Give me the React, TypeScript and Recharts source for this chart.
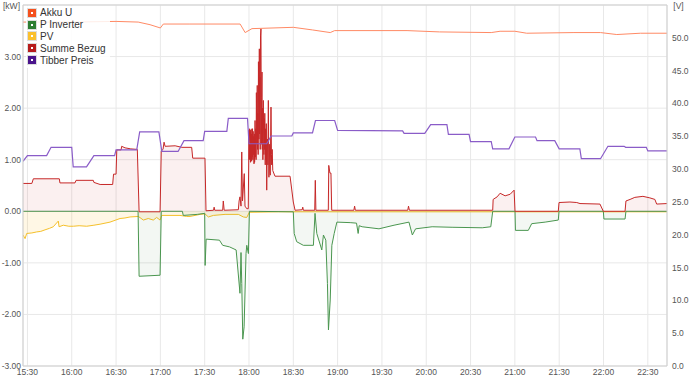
import React from "react";
import {
  ComposedChart,
  Area,
  Line,
  XAxis,
  YAxis,
  CartesianGrid,
  Legend,
  ReferenceLine,
} from "recharts";

// time in minutes since midnight
const akkuU: [number, number][] = [
  [927, 52.4], [960, 52.4], [990, 52.5], [1005, 52.4], [1013, 52.0], [1020, 51.5],
  [1022, 52.1], [1040, 52.1], [1074, 52.1], [1077.4, 50.8], [1082, 51.4], [1110, 51.6],
  [1123, 51.2], [1135, 50.8], [1138, 51.1], [1187, 51.1], [1209, 50.9], [1244, 50.8],
  [1250, 51.0], [1260, 51.0], [1268, 50.7], [1300, 50.8], [1318, 50.8], [1329, 50.5],
  [1345, 50.7], [1363, 50.7],
];

const pInverter: [number, number][] = [
  [927, 0], [1004.9, 0], [1005.6, -1.26], [1019.8, -1.24], [1020.6, 0], [1034.9, 0],
  [1035.5, -0.08], [1045, -0.06], [1050, -0.04], [1050.3, -1.05], [1051, -0.54],
  [1060, -0.56], [1062.2, -0.66], [1066.8, -0.69], [1071.3, -0.75], [1073.9, -1.59],
  [1074.6, -0.8], [1075.1, -1.4], [1075.8, -2.48], [1076.7, -2.24], [1078, -0.82],
  [1078.5, -0.66], [1079.6, -0.82], [1080.3, 0], [1110, -0.01], [1110.6, -0.43],
  [1112.3, -0.59], [1116.8, -0.66], [1123.6, -0.66], [1124.7, -0.04], [1125.9, -0.43],
  [1129.3, -0.75], [1130.4, -0.46], [1132, -0.56], [1133.1, -1.4], [1133.8, -2.3],
  [1135, -1.72], [1136.1, -0.66], [1137.7, -0.43], [1139.5, -0.21], [1148.5, -0.22],
  [1152.8, -0.23], [1153.9, -0.43], [1154.6, -0.28], [1156.6, -0.3], [1168, -0.34],
  [1178.2, -0.27], [1188.3, -0.21], [1190.6, -0.46], [1192.8, -0.34], [1204, -0.3],
  [1217.5, -0.31], [1237.9, -0.32], [1243.7, -0.3], [1245, 0], [1260.1, 0],
  [1260.4, -0.37], [1269.1, -0.37], [1271.4, -0.24], [1280.5, -0.21], [1289.4, -0.17],
  [1289.9, 0], [1319.9, 0], [1320.3, -0.15], [1334.6, -0.15], [1335.2, 0], [1363, 0],
];

const pv: [number, number][] = [
  [927, -0.46], [928.4, -0.53], [929.5, -0.43], [933, -0.42], [936.3, -0.4],
  [939, -0.39], [941.9, -0.36], [945, -0.33], [947.5, -0.3], [950.9, -0.19],
  [951.4, -0.3], [954.3, -0.27], [958, -0.29], [961.1, -0.29], [965, -0.28],
  [970.1, -0.29], [975, -0.27], [979.2, -0.25], [985.9, -0.21], [992.7, -0.14],
  [996, -0.13], [999.5, -0.11], [1005.1, -0.1], [1008.5, -0.17], [1011.8, -0.14],
  [1015.2, -0.17], [1017.5, -0.12], [1019.8, -0.17], [1020.9, -0.08], [1033.3, -0.08],
  [1037.8, -0.1], [1040.1, -0.1], [1046.9, -0.06], [1050.2, -0.05], [1052.5, -0.11],
  [1055.9, -0.08], [1063.8, -0.06], [1072.8, -0.06], [1076.2, -0.11], [1078.5, -0.12],
  [1080.2, -0.02], [1100, -0.01], [1363, -0.01],
];

const summeBezug: [number, number][] = [
  [927, 0.54], [933, 0.54], [934, 0.63], [951.6, 0.63], [952, 0.55], [962.2, 0.55],
  [962.9, 0.6], [974.6, 0.6], [975, 0.56], [979.2, 0.52], [987.7, 0.52], [988.3, 0.72],
  [990, 0.72], [990.5, 1.19], [993.4, 1.19], [993.8, 1.26], [996.1, 1.23], [1000, 1.21],
  [1004.4, 1.2], [1005.6, -0.01], [1019.8, -0.01], [1020.6, 1.17], [1021.8, 1.2],
  [1022.5, 1.34], [1023.2, 1.26], [1030, 1.27], [1034.5, 1.24], [1041.2, 1.24],
  [1041.9, 1.03], [1050.2, 1.03], [1050.9, 0.01], [1056, 0.02], [1056.4, 0.08],
  [1056.8, 0.02], [1062.2, 0.02], [1062.6, 0.2], [1063.2, 0.02], [1072.8, 0.03],
  [1073.3, 0.2], [1073.9, 0.28], [1074.6, 0.1], [1075.1, 1.15], [1075.6, 0.2],
  [1076.8, 0.73], [1077.3, 0.1], [1078.5, 0.05], [1079.5, 0.05],
  [1080, 1.57], [1080.2, 1.0], [1080.4, 1.6], [1080.6, 1.02], [1080.8, 1.55],
  [1081, 0.95], [1081.2, 1.58], [1081.4, 1.0], [1081.6, 1.5], [1081.8, 0.97],
  [1082, 1.6], [1082.2, 1.05], [1082.4, 1.6], [1082.6, 1.0], [1082.8, 1.55],
  [1083, 1.1], [1083.2, 1.45], [1083.4, 0.92], [1083.6, 1.5], [1083.8, 0.95],
  [1084.1, 1.76], [1084.4, 1.05], [1084.6, 1.6], [1084.8, 1.0], [1085, 2.3],
  [1085.3, 1.3], [1085.6, 2.44], [1085.8, 1.2], [1086, 1.9], [1086.2, 1.1],
  [1086.4, 2.9], [1086.7, 1.4], [1087, 3.15], [1087.2, 1.5], [1087.4, 2.6],
  [1087.6, 1.2], [1087.8, 3.4], [1088.1, 3.54], [1088.4, 1.3], [1088.6, 2.2],
  [1088.8, 2.7], [1089, 1.2], [1089.2, 2.0], [1089.4, 1.0], [1089.7, 2.15],
  [1090.1, 1.1], [1090.3, 1.8], [1090.5, 1.2], [1090.7, 1.9], [1091, 0.9],
  [1091.3, 1.6], [1091.5, 1.0], [1091.7, 1.7], [1092, 0.41], [1092.3, 1.2],
  [1092.5, 1.4], [1092.8, 0.9], [1093.1, 2.15], [1093.5, 0.66], [1093.8, 1.3],
  [1094.1, 0.8], [1094.4, 0.7], [1094.9, 2.02], [1095.2, 1.1], [1095.4, 0.9],
  [1095.7, 1.2], [1096.1, 0.79],
  [1097.6, 0.68], [1107.8, 0.68], [1110, 0.18], [1111.2, 0.02], [1116, 0.03],
  [1116.4, 0.08], [1116.8, 0.02], [1124.5, 0.02], [1124.9, 0.6], [1125.3, 0.02],
  [1133.7, 0.02], [1134, 0.89], [1134.8, 0.74], [1135.5, 0.74], [1136, 0.02],
  [1151, 0.02], [1151.5, 0.1], [1152, 0.02], [1187.5, 0.02], [1188, 0.1],
  [1188.6, 0.02], [1245, 0.02], [1245.3, 0.23], [1248, 0.28], [1250, 0.35],
  [1253.4, 0.3], [1256.8, 0.33], [1259.5, 0.41], [1260.1, 0], [1289.4, 0],
  [1289.9, 0.17], [1297.3, 0.18], [1301.9, 0.17], [1304.1, 0.15], [1317.6, 0.14],
  [1319.9, 0], [1334.6, 0], [1335.2, 0.2], [1338, 0.23], [1341.2, 0.27],
  [1346.7, 0.29], [1351.4, 0.26], [1354.8, 0.23], [1356, 0.14], [1363, 0.15],
];

const tibberPreis: [number, number][] = [
  [927, 0.97], [930, 1.08], [943, 1.08], [946, 1.24], [960, 1.24], [961, 0.86],
  [970, 0.86], [975, 1.08], [989, 1.08], [990, 1.19], [1004, 1.19], [1006, 1.54],
  [1019, 1.54], [1021, 1.16], [1032, 1.16], [1036, 1.37], [1049, 1.37], [1050, 1.55],
  [1065, 1.55], [1066, 1.8], [1079, 1.8], [1080, 1.31], [1092, 1.31], [1095, 1.46],
  [1109, 1.46], [1110, 1.52], [1123, 1.52], [1125, 1.76], [1138, 1.76], [1140, 1.57],
  [1184, 1.56], [1185, 1.51], [1199, 1.51], [1203, 1.68], [1214, 1.68], [1215, 1.49],
  [1229, 1.49], [1230, 1.35], [1244, 1.35], [1245, 1.21], [1256, 1.21], [1260, 1.44],
  [1274, 1.44], [1275, 1.37], [1287, 1.37], [1290, 1.21], [1304, 1.21], [1305, 1.02],
  [1318, 1.02], [1323, 1.26], [1334, 1.26], [1335, 1.24], [1349, 1.24], [1350, 1.17],
  [1363, 1.17],
];

const timeTicks = [930, 960, 990, 1020, 1050, 1080, 1110, 1140, 1170, 1200, 1230, 1260, 1290, 1320, 1350];
const kwTicks = [-3, -2, -1, 0, 1, 2, 3];
const voltTicks = [0, 5, 10, 15, 20, 25, 30, 35, 40, 45, 50];

const legendItems = [
  { name: "Akku U", color: "#f4511e" },
  { name: "P Inverter", color: "#2e7d32" },
  { name: "PV", color: "#fbc02d" },
  { name: "Summe Bezug", color: "#b71c1c" },
  { name: "Tibber Preis", color: "#4a148c" },
];

const FONT = "'Liberation Sans', Arial, sans-serif";
const toRows = (arr: [number, number][]) => arr.map(([t, v]) => ({ t, v }));
const fmtTime = (m: number) =>
  `${String(Math.floor(m / 60)).padStart(2, "0")}:${String(m % 60).padStart(2, "0")}`;

function LegendBox() {
  return (
    <div
      style={{
        background: "rgba(255,255,255,0.85)",
        padding: "1px 4px 2px 1px",
        fontFamily: FONT,
        fontSize: 10,
        color: "#333",
      }}
    >
      {legendItems.map((it) => (
        <div key={it.name} style={{ display: "flex", alignItems: "center", height: 11.8 }}>
          <div style={{ border: "1px solid #ddd", marginRight: 3 }}>
            <div style={{ width: 2, height: 2, border: `3px solid ${it.color}`, background: "#fff" }} />
          </div>
          <span>{it.name}</span>
        </div>
      ))}
    </div>
  );
}

export default function App() {
  const tick = { fontSize: 8.5, fill: "#555", fontFamily: FONT };
  return (
    <div style={{ position: "absolute", left: 0, top: 0, width: 690, height: 380, background: "#fff" }}>
      <ComposedChart width={690} height={380} margin={{ top: 5, right: 0, bottom: 0, left: 0 }}>
        <CartesianGrid stroke="#e8e8e8" vertical horizontal yAxisId="kw" />
        <XAxis
          dataKey="t"
          type="number"
          domain={[927, 1363]}
          ticks={timeTicks}
          tickFormatter={fmtTime}
          allowDataOverflow
          height={14}
          tickSize={0}
          tickMargin={3}
          tick={tick}
          stroke="#cfcfcf"
        />
        <YAxis
          yAxisId="kw"
          orientation="left"
          type="number"
          domain={[-3, 4]}
          ticks={kwTicks}
          tickFormatter={(v: number) => v.toFixed(2)}
          width={23}
          tickSize={0}
          tickMargin={2}
          tick={tick}
          stroke="#cfcfcf"
          label={{ value: "[kW]", position: "insideTop", offset: -2, style: { ...tick } }}
        />
        <YAxis
          yAxisId="v"
          orientation="right"
          type="number"
          domain={[0, 55]}
          ticks={voltTicks}
          tickFormatter={(v: number) => v.toFixed(1)}
          width={23}
          tickSize={0}
          tickMargin={5}
          tick={tick}
          stroke="#cfcfcf"
          label={{ value: "[V]", position: "insideTop", offset: -2, style: { ...tick } }}
        />
        <ReferenceLine yAxisId="kw" y={4} stroke="#cfcfcf" />
        <Legend
          layout="vertical"
          align="center"
          verticalAlign="middle"
          wrapperStyle={{ left: 26, top: 6, width: "auto", height: "auto" }}
          content={() => <LegendBox />}
        />
        <Area
          yAxisId="kw"
          data={toRows(pv)}
          dataKey="v"
          type="linear"
          stroke="#f5c02a"
          strokeWidth={1}
          fill="#fbc02d"
          fillOpacity={0.12}
          dot={false}
          isAnimationActive={false}
        />
        <Area
          yAxisId="kw"
          data={toRows(pInverter)}
          dataKey="v"
          type="linear"
          stroke="#4a964f"
          strokeWidth={1}
          fill="#2e7d32"
          fillOpacity={0.06}
          dot={false}
          isAnimationActive={false}
        />
        <Area
          yAxisId="kw"
          data={toRows(summeBezug)}
          dataKey="v"
          type="linear"
          stroke="#c62828"
          strokeWidth={1}
          fill="#c62828"
          fillOpacity={0.07}
          dot={false}
          isAnimationActive={false}
        />
        <Line
          yAxisId="kw"
          data={toRows(tibberPreis)}
          dataKey="v"
          type="linear"
          stroke="#8a5cc8"
          strokeWidth={1.2}
          dot={false}
          isAnimationActive={false}
        />
        <Line
          yAxisId="v"
          data={toRows(akkuU)}
          dataKey="v"
          type="linear"
          stroke="#ff8a65"
          strokeWidth={1}
          dot={false}
          isAnimationActive={false}
        />
      </ComposedChart>
    </div>
  );
}
